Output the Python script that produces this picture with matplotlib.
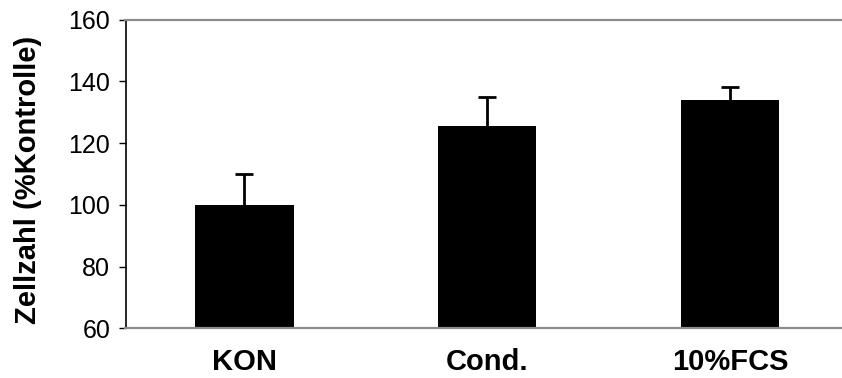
import matplotlib
matplotlib.use('Agg')
import matplotlib.pyplot as plt

# Zellzahl in % der Kontrolle
gruppen = ['KON', 'Cond.', '10%FCS']
werte = [100, 125.5, 134]
fehler_oben = [10, 9.5, 4]

plt.rcParams['font.family'] = ['Liberation Sans', 'DejaVu Sans']

fig = plt.figure(figsize=(8.42, 3.78), dpi=100)
ax = fig.add_axes([125.5/842, 1-328.3/378, 1-125.5/842, (328.3-19.5)/378])

pos = list(range(len(gruppen)))
ax.bar(pos, werte, width=0.407, color='black', zorder=2)
eb = ax.errorbar(pos, werte, yerr=[[0]*len(werte), fehler_oben], fmt='none',
                 ecolor='black', elinewidth=2, capsize=6.5, capthick=2, zorder=1)
# nur die obere Kappe zeigen
eb[1][0].set_visible(False)

ax.set_xlim(-0.488, 2.461)
ax.set_ylim(60, 160)
ax.set_yticks(range(60, 161, 20))
ax.set_xticks(pos)
ax.set_xticklabels(gruppen, fontsize=21, fontweight='bold')
ax.tick_params(axis='x', length=0, pad=14)
ax.tick_params(axis='y', labelsize=18, length=5, width=1, direction='out', pad=6)

ax.spines['right'].set_visible(False)
ax.spines['left'].set_linewidth(1.2)
ax.spines['top'].set_color('#8c8c8c')
ax.spines['top'].set_linewidth(1.6)
ax.spines['bottom'].set_color('#8c8c8c')
ax.spines['bottom'].set_linewidth(1.6)

fig.text(28/842, 1-180/378, 'Zellzahl (%Kontrolle)', rotation=90, fontsize=21,
         fontweight='bold', ha='center', va='center')

fig.savefig('out.png', dpi=100)
